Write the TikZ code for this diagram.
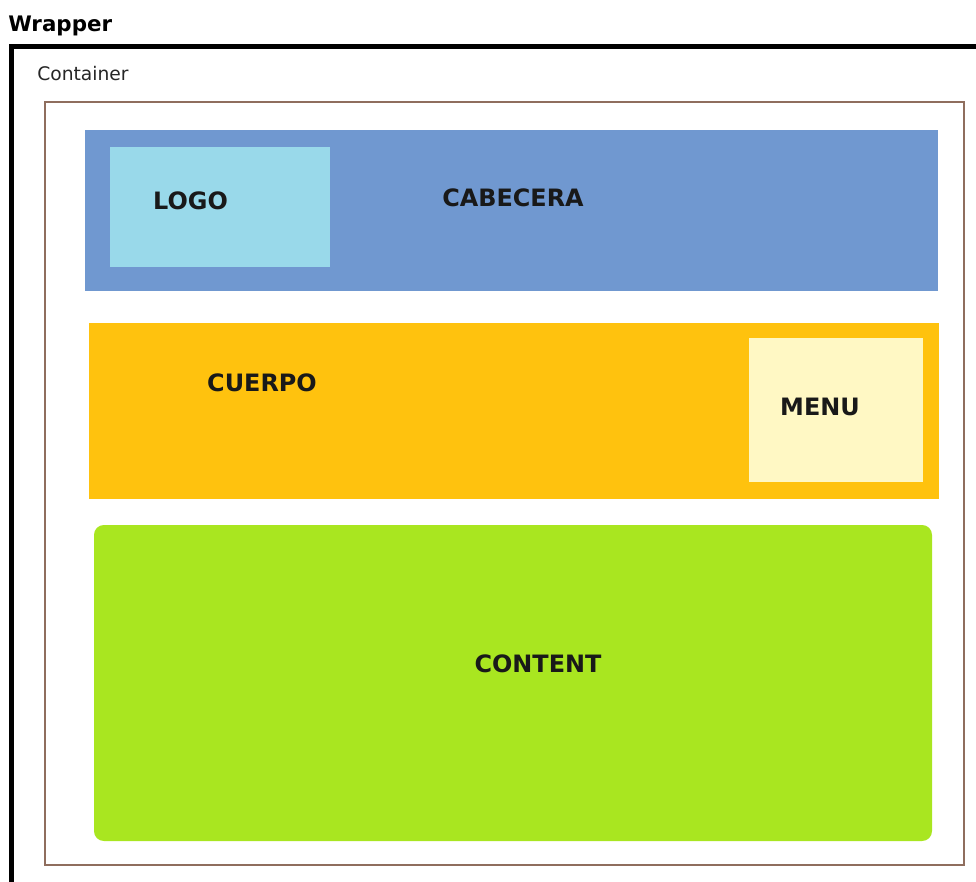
\documentclass[tikz,border=0pt]{standalone}
\usepackage{fontspec}
\setmainfont{DejaVu Sans}
\usepackage{tikz}
\usetikzlibrary{positioning}

\definecolor{cabblue}{HTML}{7098D0}
\definecolor{logoblue}{HTML}{99D9EA}
\definecolor{cuerpoorange}{HTML}{FFC20E}
\definecolor{menucream}{HTML}{FFF8C4}
\definecolor{contentgreen}{HTML}{A9E620}
\definecolor{contbrown}{HTML}{8F6E5E}

\begin{document}
\begin{tikzpicture}[x=0.025cm,y=-0.025cm,
  lbl/.style={font=\fontsize{17}{20}\selectfont\bfseries,text=black!90,inner sep=0pt},
  ttl/.style={anchor=base west,inner sep=0pt}]
\useasboundingbox (0,0) rectangle (976,882);

% Wrapper
\begin{scope}
\clip (0,0) rectangle (976,882);
\draw[line width=4pt] (11.5,46.5) rectangle (1000,920);
\end{scope}
\node[ttl,font=\fontsize{15.2}{18}\selectfont\bfseries] (wrapper) at (8,31) {Wrapper};

% Container
\draw[contbrown,line width=2pt] (45,102) rectangle (964,865);
\node[ttl,font=\fontsize{13.3}{16}\selectfont,text=black!85] (container) at (37,80.5) {Container};

% Cabecera + logo
\fill[cabblue] (85,130) rectangle (938,291);
\fill[logoblue] (110,147) rectangle (330,267);
\node[lbl] (logo) at (190.5,200.5) {LOGO};
\node[lbl] (cabecera) at (513,198) {CABECERA};

% Cuerpo + menu
\fill[cuerpoorange] (89,323) rectangle (939,499);
\fill[menucream] (749,338) rectangle (923,482);
\node[lbl] (cuerpo) at (262,383) {CUERPO};
\node[lbl] (menu) at (820,407) {MENU};

% Content
\fill[contentgreen,rounded corners=7pt] (94,525) rectangle (932,841);
\node[lbl] (content) at (538,664) {CONTENT};
\end{tikzpicture}
\end{document}
